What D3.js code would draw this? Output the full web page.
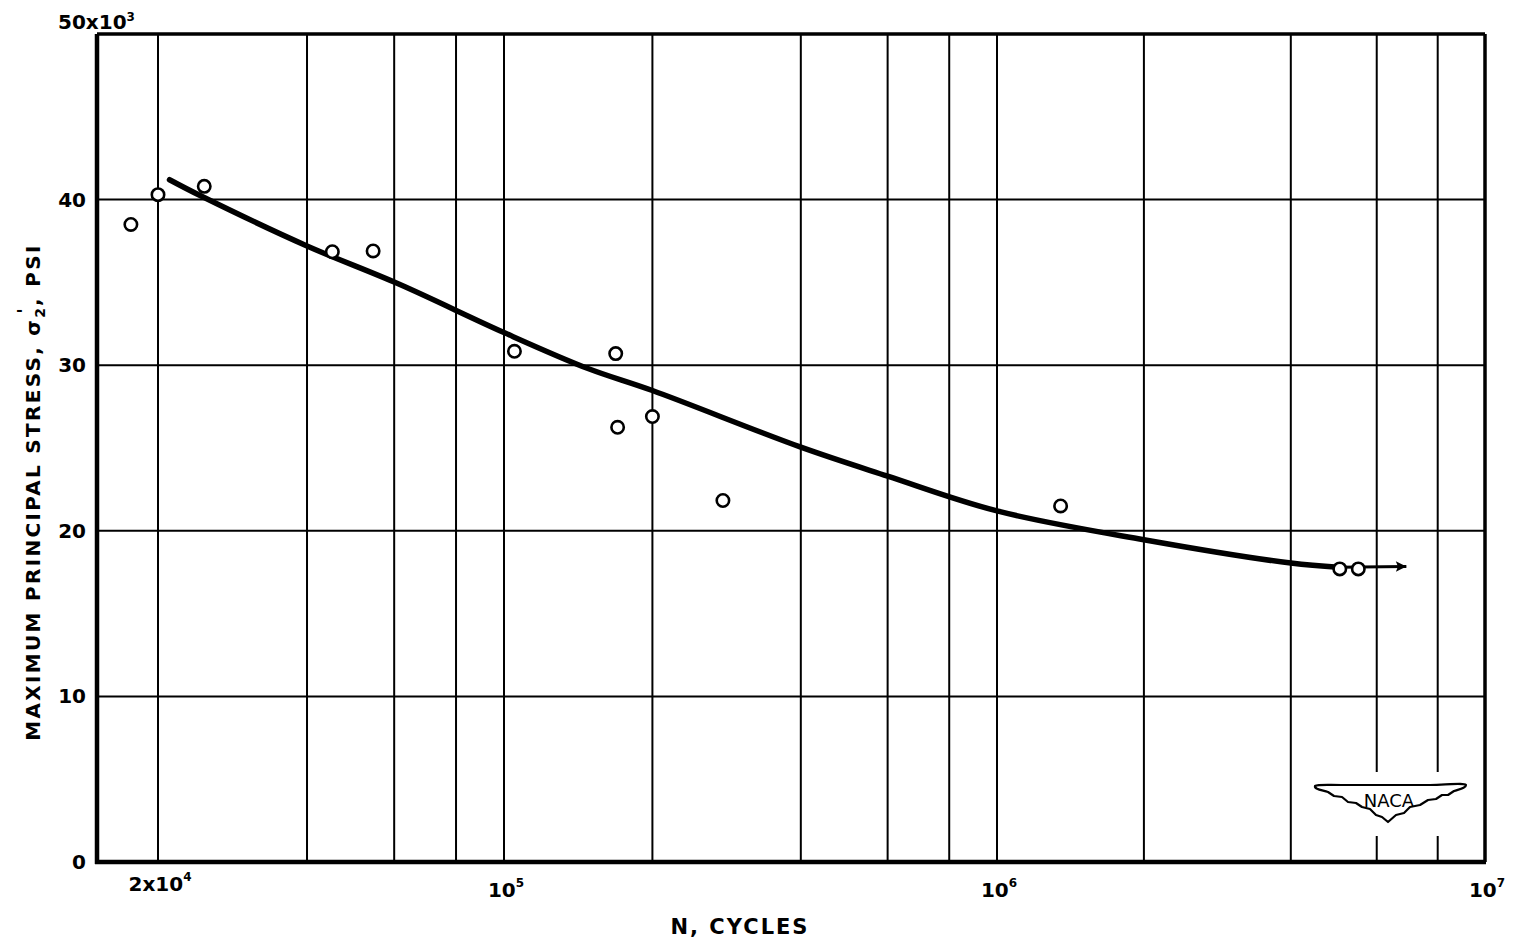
<!DOCTYPE html>
<html>
<head>
<meta charset="utf-8">
<script src="https://cdn.jsdelivr.net/npm/d3@7/dist/d3.min.js"></script>
<style>
  body { margin: 0; background: #fff; }
  svg text { font-family: "DejaVu Sans", "Liberation Sans", sans-serif; font-weight: bold; fill: #000; }
</style>
</head>
<body>
<svg id="chart" width="1522" height="945"></svg>
<script>
// test points: cycles to failure and max principal stress (ksi)
const cycles = [1.76e4, 2.0e4, 2.48e4, 4.5e4, 5.44e4, 1.05e5, 1.685e5, 1.7e5, 2.0e5, 2.78e5, 1.35e6, 5.04e6, 5.5e6];
const stress = [38.5, 40.3, 40.8, 36.85, 36.9, 30.84, 30.7, 26.25, 26.9, 21.83, 21.5, 17.7, 17.7];

// faired curve
const curveN = [2.11e4, 2.45e4, 4e4, 6.13e4, 1e5, 1.48e5, 2e5, 4e5, 6e5, 1e6, 2e6, 4e6, 5e6];
const curveS = [41.2, 40.2, 37.2, 34.9, 31.97, 29.8, 28.47, 25.05, 23.3, 21.2, 19.46, 18.05, 17.8];
// run-out arrow
const arrowN = [5e6, 6.9e6];
const arrowS = [17.8, 17.85];

const xGrid = [2e4, 4e4, 6e4, 8e4, 1e5, 2e5, 4e5, 6e5, 8e5, 1e6, 2e6, 4e6, 6e6, 8e6];
const yGrid = [10, 20, 30, 40];
const yTicks = [0, 10, 20, 30, 40];
const xLabels = [
  { v: 2e4, base: "2x10", exp: "4" },
  { v: 1e5, base: "10", exp: "5" },
  { v: 1e6, base: "10", exp: "6" },
  { v: 1e7, base: "10", exp: "7" }
];

const svg = d3.select("#chart");

// the printed log paper is not quite uniform, so the scale is piecewise
const x = d3.scaleLog()
  .domain([1.5e4, 2e4, 1e5, 1e6, 1e7])
  .range([97, 158, 504, 997, 1485]);
const y = d3.scaleLinear().domain([0, 50]).range([862, 34]);

const xLeft = x(1.5e4), xRight = x(1e7), yTop = y(50), yBottom = y(0);

// grid
svg.append("g")
  .selectAll("line")
  .data(xGrid)
  .join("line")
  .attr("x1", d => x(d)).attr("x2", d => x(d))
  .attr("y1", yTop).attr("y2", yBottom)
  .attr("stroke", "#000").attr("stroke-width", 2);

svg.append("g")
  .selectAll("line")
  .data(yGrid)
  .join("line")
  .attr("x1", xLeft).attr("x2", xRight)
  .attr("y1", d => y(d)).attr("y2", d => y(d))
  .attr("stroke", "#000").attr("stroke-width", 2);

// frame
svg.append("line").attr("x1", xLeft).attr("x2", xRight).attr("y1", yTop).attr("y2", yTop)
  .attr("stroke", "#000").attr("stroke-width", 3.5);
svg.append("line").attr("x1", xRight).attr("x2", xRight).attr("y1", yTop).attr("y2", yBottom)
  .attr("stroke", "#000").attr("stroke-width", 3.5);
svg.append("line").attr("x1", xLeft).attr("x2", xLeft).attr("y1", yTop).attr("y2", yBottom + 2)
  .attr("stroke", "#000").attr("stroke-width", 4.5);
svg.append("line").attr("x1", xLeft - 2).attr("x2", xRight + 1).attr("y1", yBottom).attr("y2", yBottom)
  .attr("stroke", "#000").attr("stroke-width", 4.5);

// NACA emblem (covers the grid lines behind it)
const logo = svg.append("g").attr("transform", "translate(1390,801)");
logo.append("rect").attr("x", -82).attr("y", -29).attr("width", 164).attr("height", 64).attr("fill", "#fff");
logo.append("path")
  .attr("d", "M-75,-15 C-72,-17 -66,-16 -40,-16 L40,-16 C66,-17 74,-18 76,-16 C76,-13 70,-12 64,-10 " +
             "L58,-6 L52,-6 L46,-2 L38,-1 L30,4 L20,6 L14,12 L6,14 L-2,21 L-8,16 L-14,14 L-20,8 " +
             "L-28,6 L-34,2 L-42,1 L-48,-4 L-56,-5 L-62,-9 C-68,-11 -76,-12 -75,-15 Z")
  .attr("fill", "#fff").attr("stroke", "#000").attr("stroke-width", 2.2).attr("stroke-linejoin", "round");
logo.append("text").attr("x", -1).attr("y", 6).attr("text-anchor", "middle")
  .style("font-size", "18px").style("font-weight", "normal").text("NACA");

// faired curve
const line = d3.line().x(d => x(d[0])).y(d => y(d[1])).curve(d3.curveCatmullRom.alpha(0.5));
svg.append("path")
  .datum(curveN.map((n, i) => [n, curveS[i]]))
  .attr("d", line)
  .attr("fill", "none").attr("stroke", "#000").attr("stroke-width", 5.5).attr("stroke-linecap", "round");

// run-out arrow
svg.append("defs").append("marker")
  .attr("id", "arrow").attr("viewBox", "0 0 10 10").attr("refX", 10).attr("refY", 5)
  .attr("markerWidth", 5.5).attr("markerHeight", 3.5).attr("markerUnits", "strokeWidth").attr("orient", "auto")
  .append("path").attr("d", "M0,0 L10,5 L0,10 L2,5 Z").attr("fill", "#000");
svg.append("path")
  .datum(arrowN.map((n, i) => [n, arrowS[i]]))
  .attr("d", d3.line().x(d => x(d[0])).y(d => y(d[1])))
  .attr("stroke", "#000").attr("stroke-width", 3).attr("marker-end", "url(#arrow)");

// test points
svg.append("g")
  .selectAll("circle")
  .data(cycles.map((n, i) => [n, stress[i]]))
  .join("circle")
  .attr("cx", d => x(d[0])).attr("cy", d => y(d[1])).attr("r", 6.2)
  .attr("fill", "#fff").attr("stroke", "#000").attr("stroke-width", 2.6);

// y tick labels
svg.append("g")
  .selectAll("text")
  .data(yTicks)
  .join("text")
  .attr("x", 86).attr("y", d => y(d) + 7)
  .attr("text-anchor", "end")
  .style("font-size", "20px")
  .text(d => d);

const top50 = svg.append("text").attr("x", 58).attr("y", 29).style("font-size", "20px");
top50.append("tspan").text("50x10");
top50.append("tspan").attr("dy", -8).style("font-size", "12px").text("3");

// x tick labels
const xl = svg.append("g")
  .selectAll("text")
  .data(xLabels)
  .join("text")
  .attr("x", d => x(d.v) + 2).attr("y", d => d.v === 2e4 ? 891 : 897)
  .attr("text-anchor", "middle")
  .style("font-size", "20px");
xl.append("tspan").text(d => d.base);
xl.append("tspan").attr("dy", -10).style("font-size", "12px").text(d => d.exp);

// axis titles
svg.append("text")
  .attr("x", 740).attr("y", 934)
  .attr("text-anchor", "middle")
  .style("font-size", "21px")
  .style("letter-spacing", "2px")
  .text("N, CYCLES");

const yt = svg.append("text")
  .attr("transform", "translate(40,492) rotate(-90)")
  .attr("text-anchor", "middle")
  .style("font-size", "20px")
  .style("letter-spacing", "2.3px");
yt.append("tspan").text("MAXIMUM  PRINCIPAL STRESS,  σ");
yt.append("tspan").attr("dy", 5).style("font-size", "14px").text("2");
yt.append("tspan").attr("dx", -8).attr("dy", -15).style("font-size", "18px").text("'");
yt.append("tspan").attr("dy", 10).text(",  PSI");
</script>
</body>
</html>
